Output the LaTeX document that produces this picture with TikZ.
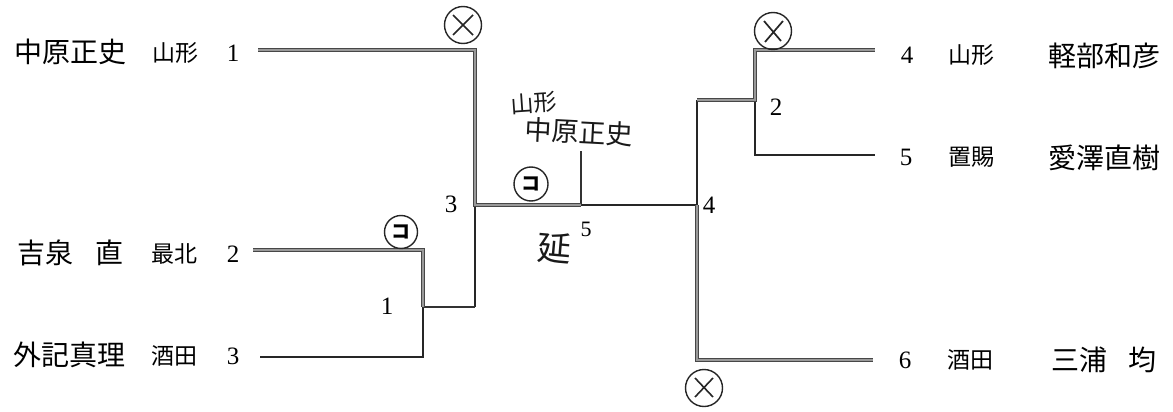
\documentclass[tikz,border=0pt]{standalone}
\usepackage{fontspec}
\setmainfont{Liberation Serif}
\newfontfamily\jp{Noto Sans CJK JP}
\begin{document}
\begin{tikzpicture}[x=1pt,y=-1pt,
  winln/.style={draw=black!72, double=black!40, double distance=1.5pt, line width=1.1pt, line join=miter},
  midln/.style={draw=black!80, line width=2.2pt},
  loseln/.style={draw=black!85, line width=1.2pt},
  pname/.style={font=\jp\fontsize{28}{30}\selectfont, inner sep=0pt},
  ppref/.style={font=\jp\fontsize{23}{25}\selectfont, inner sep=0pt},
  pnum/.style={font=\fontsize{25}{27}\selectfont, inner sep=0pt},
  handtxt/.style={font=\jp\fontsize{#1}{#1}\selectfont, inner sep=0pt, text=black!90},
  ringmark/.style={circle, draw=black!85, line width=1.4pt, minimum size=37pt, inner sep=0pt},
]
\useasboundingbox (0,0) rectangle (1173,412);
\fill[white] (0,0) rectangle (1173,412);

% left entries
\node[pname] (n1) at (70,52) {中原正史};
\node[ppref] (p1) at (175,53) {山形};
\node[pnum]  (k1) at (233,53) {1};
\node[pname] (n2a) at (45,253) {吉泉};
\node[pname] (n2b) at (109,253) {直};
\node[ppref] (p2) at (174,254) {最北};
\node[pnum]  (k2) at (233,254) {2};
\node[pname] (n3) at (69,355) {外記真理};
\node[ppref] (p3) at (174,356) {酒田};
\node[pnum]  (k3) at (233,356) {3};

% right entries
\node[pnum]  (k4) at (907,55) {4};
\node[ppref] (p4) at (971,55) {山形};
\node[pname] (n4) at (1104,56) {軽部和彦};
\node[pnum]  (k5) at (906,157) {5};
\node[ppref] (p5) at (971,157) {置賜};
\node[pname] (n5) at (1104,158) {愛澤直樹};
\node[pnum]  (k6) at (905,360) {6};
\node[ppref] (p6) at (970,360) {酒田};
\node[pname] (n6a) at (1079,360) {三浦};
\node[pname] (n6b) at (1142,360) {均};

% bracket points
\coordinate (s1) at (258,50);
\coordinate (s2) at (253,250);
\coordinate (s3) at (260,357);
\coordinate (m1a) at (423,250);
\coordinate (m1m) at (423,307);
\coordinate (m1b) at (423,357);
\coordinate (m3t) at (475,50);
\coordinate (m3c) at (475,205);
\coordinate (m3b) at (475,307);
\coordinate (hw) at (581,205);
\coordinate (hwt) at (581,151);
\coordinate (m4c) at (697,205);
\coordinate (m4t) at (697,100);
\coordinate (m4b) at (697,360);
\coordinate (m2c) at (755,100);
\coordinate (m2t) at (755,50);
\coordinate (m2b) at (755,155);
\coordinate (s4) at (875,50);
\coordinate (s5) at (875,155);
\coordinate (s6) at (873,360);

% thin lines
\draw[loseln] (m3c) -- (m3b);
\draw[loseln] (m1m) -- (m1b) -- (s3);
\draw[loseln] (hw) -- (m4c) -- (m4t);
\draw[loseln] (m2c) -- (m2b) -- (s5);
% medium
\draw[midln] (m1m) -- (m3b);
\draw[midln] (hwt) -- (hw);
% winners
\draw[winln] (s1) -- (m3t) -- (m3c) -- (hw);
\draw[winln] (s2) -- (m1a) -- (m1m);
\draw[winln] (m4t) -- (m2c) -- (m2t) -- (s4);
\draw[winln] (m4c) -- (m4b) -- (s6);

% match numbers
\node[pnum] (r1) at (387,306) {1};
\node[pnum] (r3) at (451,204) {3};
\node[pnum] (r4) at (709,205) {4};
\node[pnum] (r2) at (776,107) {2};
\node[pnum, font=\fontsize{22}{24}\selectfont] (r5) at (586,229) {5};

% handwritten marks
\node[ringmark] (x1) at (463,25) {};
\draw[black!85, line width=1.5pt] ([shift={(-10pt,-10pt)}]x1.center) -- ([shift={(10pt,10pt)}]x1.center)
  ([shift={(-10pt,10pt)}]x1.center) -- ([shift={(10pt,-10pt)}]x1.center);
\node[ringmark] (x2) at (773,31) {};
\draw[black!85, line width=1.7pt] ([shift={(-8pt,-11pt)}]x2.center) -- ([shift={(10pt,10pt)}]x2.center)
  ([shift={(-9pt,10pt)}]x2.center) -- ([shift={(8pt,-10pt)}]x2.center);
\node[ringmark] (x3) at (704,388) {};
\draw[black!85, line width=1.6pt] ([shift={(-9pt,-9pt)}]x3.center) -- ([shift={(9pt,10pt)}]x3.center)
  ([shift={(-9pt,10pt)}]x3.center) -- ([shift={(9pt,-9pt)}]x3.center);
\node[ringmark, minimum size=33pt, font=\jp\bfseries\fontsize{19}{19}\selectfont] (c1) at (401,232) {コ};
\node[ringmark, minimum size=34pt, font=\jp\bfseries\fontsize{19}{19}\selectfont] (c2) at (531,184) {コ};

\node[handtxt=23, rotate=4] (h1) at (534,103) {山形};
\node[handtxt=27, rotate=-3] (h2) at (579,132) {中原正史};
\node[handtxt=34, rotate=-5] (h3) at (555,248) {延};
\end{tikzpicture}
\end{document}
